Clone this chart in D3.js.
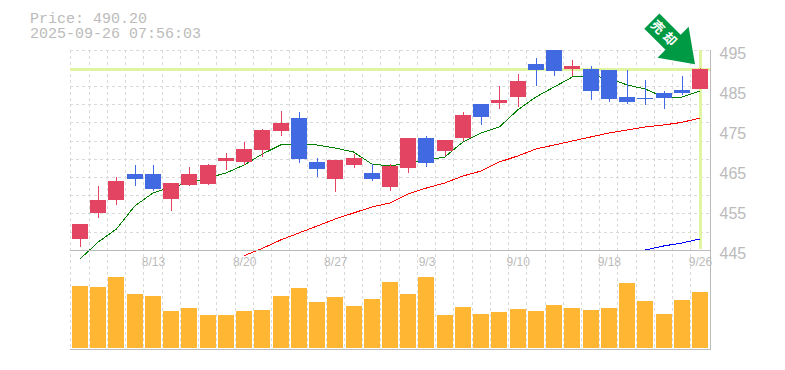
<!DOCTYPE html>
<html>
<head>
<meta charset="utf-8">
<script src="https://cdn.jsdelivr.net/npm/d3@7"></script>
<style>
  body { margin: 0; background: #fff; }
  svg { display: block; }
</style>
</head>
<body>
<script>
const dates = ["8/6","8/7","8/8","8/12","8/13","8/14","8/15","8/18","8/19","8/20","8/21","8/22","8/25","8/26","8/27","8/28","8/29","9/1","9/2","9/3","9/4","9/5","9/8","9/9","9/10","9/11","9/12","9/16","9/17","9/18","9/19","9/22","9/24","9/25","9/26"];
const dateTicks = ["8/13","8/20","8/27","9/3","9/10","9/18","9/26"];
const priceTicks = [495, 485, 475, 465, 455, 445];

const opens = [447.75,454.25,457.5,464,464,457.75,461.25,461.5,467.25,467,470,474.75,478,467,462.75,466.25,464.25,460.75,465.5,473,469.75,473,481.5,481.75,483.25,491.5,495,490.25,490.25,490,483.25,483,484.25,485,485.25];
const closes = [451.5,457.5,462.25,462.75,460.25,461.75,464,466.25,468,470.25,475,476.75,467.75,465.25,467.5,468,462.75,466,473,466.75,472.5,478.75,478.25,482.5,487.25,490,489.75,491,484.75,482.75,482,482.75,483,484.25,490.2];
const highs = [451.5,461,463.25,466.25,466.25,461.75,465.75,466.5,469.25,472,475.25,479.75,479.5,468,467.5,469,466.5,466.5,473,473.5,472.5,479.5,481.5,486,489,493,495,492.5,491,490,490,487.5,484.75,488.5,490.5];
const lows = [445.75,453,456.25,461,459.75,454.75,461,461.25,465,466.25,468.25,473.5,466.75,463.25,459.5,465.5,462.25,459.75,464.25,465.75,468.5,472.25,476.25,480.25,480.75,486,488.5,488.5,482.5,482,481.5,481.25,480.25,483.75,485.25];
const volumes = [62,61,71,54,52,37,40,33,33,37,38,52,60,46,51,42,49,66,54,71,33,41,34,36,39,37,43,40,38,40,65,47,34,48,56];

const maShort = [442.75,447,450.25,456,459.25,460.75,461.75,463,464.25,466.25,469,471.25,471.5,471.25,470.5,469.5,466.5,466,466.75,467.5,468.25,472,474.25,475.75,480,483.25,485.75,488.25,488.5,488,486.25,485.25,483.25,483.25,484.75];
const maMid = [null,null,null,null,null,null,null,null,null,443.6,445.4,447.5,449.25,451,452.75,454.25,455.75,456.75,459,460.5,461.75,463.5,464.75,467,468.5,470.25,471.25,472.25,473.25,474.25,475,475.75,476.25,476.9,478];
const maLong = [null,null,null,null,null,null,null,null,null,null,null,null,null,null,null,null,null,null,null,null,null,null,null,null,null,null,null,null,null,null,null,445,446,446.75,447.75];

const width = 785;
const height = 370;
const upColor = "#e24461";
const downColor = "#4169e1";
const axisColor = "#bbbbbb";
const gridColor = "#d9d9d9";
const markColor = "#dff5a1";

const lastPrice = closes[closes.length - 1];

const svg = d3.select("body").append("svg")
    .attr("width", width)
    .attr("height", height)
    .attr("font-family", "'Liberation Sans', Arial, sans-serif");

// candle centres
const x = d3.scalePoint().domain(dates).range([80, 700]);
const step = x.step();
const y = d3.scaleLinear().domain([445, 495]).range([250, 50]);
const yVol = d3.scaleLinear().domain([0, 98]).range([348, 250]);
const px = d => Math.round(x(d));

// grid: 11 rows over the price panel, one column per candle
const gridY = d3.range(11).map(i => Math.floor(50 + i * 200 / 11 + 0.2));
const gridX = dates.map(d => Math.floor(x(d) - step / 2) + 0.5);

const grid = svg.append("g")
    .attr("stroke", gridColor)
    .attr("stroke-dasharray", "3,3")
    .attr("shape-rendering", "crispEdges");
grid.selectAll(".h").data(gridY).enter().append("line")
    .attr("x1", 70).attr("x2", 710)
    .attr("y1", d => d + 0.5).attr("y2", d => d + 0.5);
grid.selectAll(".v").data(gridX).enter().append("line")
    .attr("y1", 50).attr("y2", 350)
    .attr("x1", d => d).attr("x2", d => d);

// current price marker
svg.append("rect")
    .attr("x", 70).attr("width", 640)
    .attr("y", Math.round(y(lastPrice)) - 1).attr("height", 3)
    .attr("fill", markColor);
svg.append("rect")
    .attr("x", px("9/26") - 1).attr("width", 3)
    .attr("y", 50).attr("height", 199)
    .attr("fill", markColor);

// volume
svg.append("g").selectAll("rect").data(volumes).enter().append("rect")
    .attr("x", (d, i) => px(dates[i]) - 8)
    .attr("width", 16)
    .attr("y", d => yVol(d))
    .attr("height", d => yVol(0) - yVol(d))
    .attr("fill", "#ffb733");

// moving averages
const line = d3.line()
    .defined(d => d !== null)
    .x((d, i) => x(dates[i]))
    .y(d => y(d));
[[maShort, "#008000"], [maMid, "#ff0000"], [maLong, "#0000ff"]].forEach(function(s) {
    svg.append("path")
        .attr("d", line(s[0]))
        .attr("fill", "none")
        .attr("stroke", s[1])
        .attr("stroke-width", 1)
        .attr("shape-rendering", "crispEdges");
});

// candles
const candles = svg.append("g").attr("shape-rendering", "crispEdges")
    .selectAll("g").data(dates).enter().append("g")
    .attr("fill", (d, i) => closes[i] >= opens[i] ? upColor : downColor);
candles.append("rect")
    .attr("x", d => px(d)).attr("width", 1)
    .attr("y", (d, i) => y(highs[i]))
    .attr("height", (d, i) => y(lows[i]) - y(highs[i]));
candles.append("rect")
    .attr("x", d => px(d) - 8).attr("width", 16)
    .attr("y", (d, i) => y(Math.max(opens[i], closes[i])))
    .attr("height", (d, i) => Math.abs(y(opens[i]) - y(closes[i])));

// frame
const frame = svg.append("g").attr("stroke", axisColor).attr("shape-rendering", "crispEdges");
frame.append("line").attr("x1", 70).attr("x2", 710).attr("y1", 250.5).attr("y2", 250.5);
frame.append("line").attr("x1", 70).attr("x2", 710).attr("y1", 349.5).attr("y2", 349.5);
frame.append("line").attr("x1", 710.5).attr("x2", 710.5).attr("y1", 50).attr("y2", 350);

// axes
const priceAxis = d3.axisRight(y).tickValues(priceTicks).tickSize(0).tickPadding(9.5);
const gPrice = svg.append("g").attr("transform", "translate(710,3)").call(priceAxis);
gPrice.select(".domain").remove();
gPrice.selectAll("text").attr("fill", axisColor).attr("font-size", 16).attr("font-family", "'Liberation Sans', Arial, sans-serif");

const dateAxis = d3.axisBottom(x).tickValues(dateTicks).tickSize(0).tickPadding(6);
const gDate = svg.append("g").attr("transform", "translate(0,251)").call(dateAxis);
gDate.select(".domain").remove();
gDate.selectAll("text").attr("fill", axisColor).attr("font-size", 12).attr("font-family", "'Liberation Sans', Arial, sans-serif");

// header
const header = svg.append("g")
    .attr("fill", axisColor)
    .attr("font-family", "'Liberation Mono', monospace")
    .attr("font-size", 15);
header.append("text").attr("x", 30).attr("y", 23).text("Price: " + lastPrice.toFixed(2));
header.append("text").attr("x", 30).attr("y", 38).text("2025-09-26 07:56:03");

// signal arrow
const arrow = svg.append("g")
    .attr("transform", "translate(" + (px("9/26") - 5) + "," + (y(lastPrice) - 5) + ") rotate(45)");
arrow.append("polygon")
    .attr("points", "0,0 -31,-22 -31,-10.7 -61,-10.7 -61,10.7 -31,10.7 -31,22")
    .attr("fill", "#009944");
arrow.append("text")
    .attr("x", -42).attr("y", 4.5)
    .attr("text-anchor", "middle")
    .attr("fill", "#fff")
    .attr("font-size", 13)
    .attr("font-weight", "bold")
    .attr("letter-spacing", 4)
    .attr("font-family", "'Noto Sans CJK JP', sans-serif")
    .text("売却");
</script>
</body>
</html>
